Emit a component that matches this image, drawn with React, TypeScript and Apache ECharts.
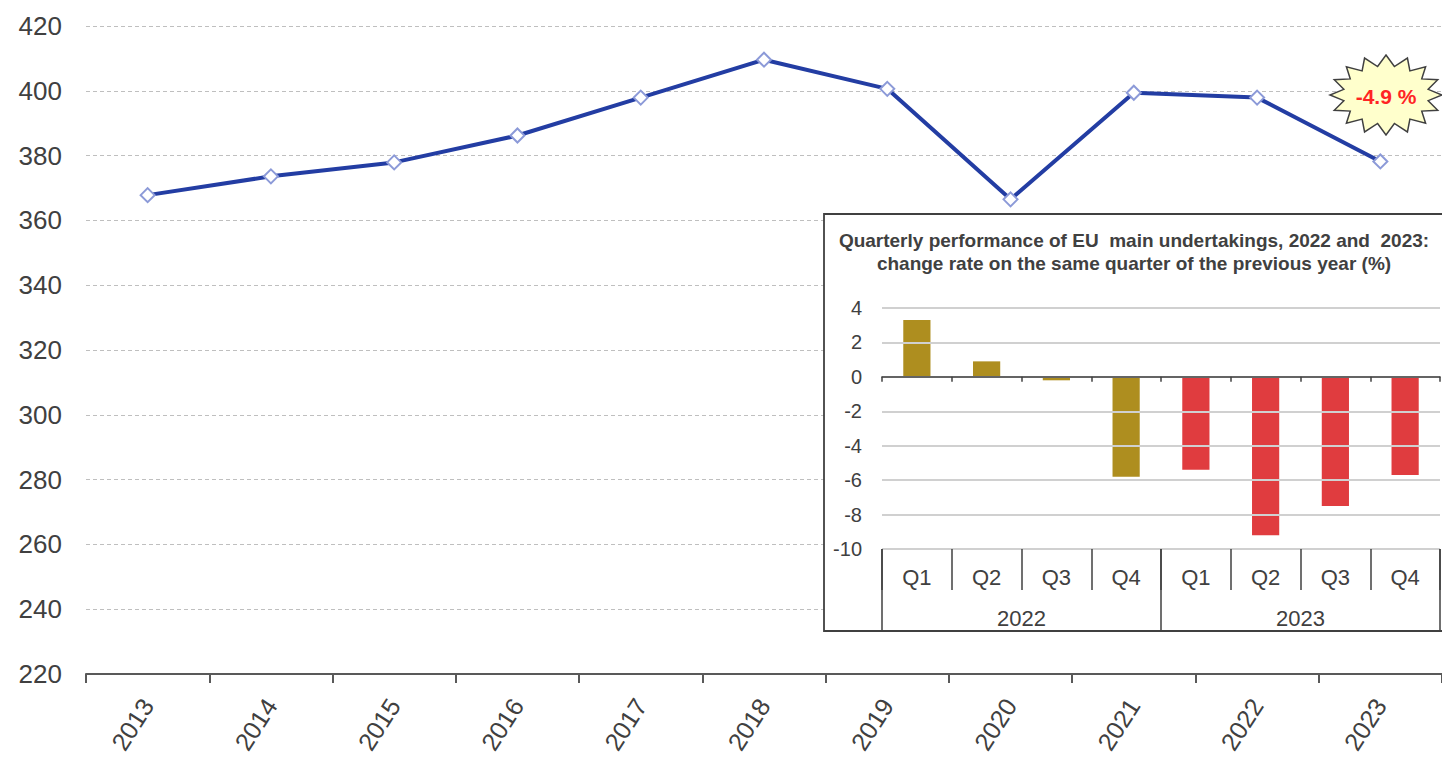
import React, { useEffect, useRef } from "react";
import * as echarts from "echarts";

const years = ["2013", "2014", "2015", "2016", "2017", "2018", "2019", "2020", "2021", "2022", "2023"];
const mainValues = [367.8, 373.6, 377.9, 386.2, 397.9, 409.6, 400.6, 366.5, 399.4, 397.9, 378.2];
const mainMin = 220;
const mainMax = 420;
const mainStep = 20;

const quarterLabels = ["Q1", "Q2", "Q3", "Q4", "Q1", "Q2", "Q3", "Q4"];
const quarterYears = ["2022", "2023"];
const quarterValues = [3.3, 0.9, -0.2, -5.8, -5.4, -9.2, -7.5, -5.7];
const yearColors = ["#AE8E1F", "#E03C3F"];
const insetMin = -10;
const insetMax = 4;
const insetStep = 2;

const changeLabel = "-4.9 %";
const insetTitle = [
  "Quarterly performance of EU  main undertakings, 2022 and  2023:",
  "change rate on the same quarter of the previous year (%)",
];

const FONT = "'Liberation Sans', Arial, sans-serif";
const TXT = "#404040";

function starPoints(cx: number, cy: number, rxo: number, ryo: number, rxi: number, ryi: number, n: number) {
  const pts: number[][] = [];
  for (let i = 0; i < n * 2; i++) {
    const a = (Math.PI * i) / n - Math.PI / 2;
    const outer = i % 2 === 0;
    const rx = outer ? rxo : rxi;
    const ry = outer ? ryo : ryi;
    pts.push([cx + rx * Math.cos(a), cy + ry * Math.sin(a)]);
  }
  return pts;
}

export default function App() {
  const ref = useRef<HTMLDivElement>(null);
  useEffect(() => {
    if (!ref.current) return;
    const chart = echarts.init(ref.current, null, { renderer: "svg" });
    const qCats = quarterLabels.map((q, i) => `${quarterYears[Math.floor(i / 4)]} ${q}`);
    const option: any = {
      animation: false,
      textStyle: { fontFamily: FONT },
      grid: [
        { left: 86, top: 26, width: 1365, height: 650, containLabel: false },
        { left: 882, top: 308, width: 558, height: 241, containLabel: false },
      ],
      xAxis: [
        {
          type: "category",
          gridIndex: 0,
          data: years,
          boundaryGap: true,
          axisLine: { show: true, lineStyle: { color: "#595959", width: 2 } },
          axisTick: { show: true, length: 9, lineStyle: { color: "#595959", width: 2 } },
          axisLabel: { rotate: 57, fontSize: 25, color: TXT, margin: 27, fontFamily: FONT },
          splitLine: { show: false },
        },
        {
          type: "category",
          gridIndex: 1,
          data: qCats,
          position: "bottom",
          z: 10,
          axisLine: { show: true, onZero: true, lineStyle: { color: "#404040", width: 1.5 } },
          axisTick: { show: true, length: 5, interval: 0, lineStyle: { color: "#404040", width: 1.5 } },
          axisLabel: { show: false },
        },
        {
          type: "category",
          gridIndex: 1,
          data: qCats,
          position: "bottom",
          z: 10,
          axisLine: { show: false, onZero: false },
          axisTick: { show: true, length: 41, interval: 0, lineStyle: { color: "#404040", width: 1.5 } },
          axisLabel: {
            show: true,
            interval: 0,
            margin: 17,
            fontSize: 22,
            color: TXT,
            fontFamily: FONT,
            formatter: (v: string) => v.split(" ")[1],
          },
        },
        {
          type: "category",
          gridIndex: 1,
          data: quarterYears,
          position: "bottom",
          z: 10,
          axisLine: { show: false, onZero: false },
          axisTick: { show: true, length: 83, interval: 0, lineStyle: { color: "#404040", width: 1.5 } },
          axisLabel: { show: true, interval: 0, margin: 58, fontSize: 22, color: TXT, fontFamily: FONT },
        },
      ],
      yAxis: [
        {
          type: "value",
          gridIndex: 0,
          min: mainMin,
          max: mainMax,
          interval: mainStep,
          axisLine: { show: false },
          axisTick: { show: false },
          axisLabel: { fontSize: 26, color: TXT, margin: 24, fontFamily: FONT },
          splitLine: { show: true, lineStyle: { color: "#BFBFBF", type: [4, 3], width: 1 } },
        },
        {
          type: "value",
          gridIndex: 1,
          min: insetMin,
          max: insetMax,
          interval: insetStep,
          z: 10,
          axisLine: { show: false },
          axisTick: { show: false },
          axisLabel: { fontSize: 20, color: TXT, margin: 20, fontFamily: FONT },
          splitLine: { show: true, lineStyle: { color: "#D0D0D0", width: 2 } },
        },
      ],
      series: [
        {
          type: "line",
          xAxisIndex: 0,
          yAxisIndex: 0,
          data: mainValues,
          z: 2,
          lineStyle: { color: "#233DA3", width: 4 },
          symbol: "diamond",
          symbolSize: 14,
          itemStyle: { color: "#FFFFFF", borderColor: "#8C9AD8", borderWidth: 2 },
        },
        {
          type: "bar",
          xAxisIndex: 1,
          yAxisIndex: 1,
          z: 9,
          barWidth: "39%",
          data: quarterValues.map((v, i) => ({
            value: v,
            itemStyle: { color: yearColors[Math.floor(i / 4)] },
          })),
        },
      ],
      graphic: {
        elements: [
          {
            type: "rect",
            z: 5,
            shape: { x: 824, y: 214, width: 700, height: 417 },
            style: { fill: "#FFFFFF", stroke: "#404040", lineWidth: 1.8 },
          },
          {
            type: "text",
            z: 12,
            x: 1134,
            y: 240,
            style: {
              text: insetTitle[0],
              fill: TXT,
              font: `bold 19px ${FONT}`,
              textAlign: "center",
              textVerticalAlign: "middle",
            },
          },
          {
            type: "text",
            z: 12,
            x: 1134,
            y: 263,
            style: {
              text: insetTitle[1],
              fill: TXT,
              font: `bold 19px ${FONT}`,
              textAlign: "center",
              textVerticalAlign: "middle",
            },
          },
          {
            type: "polygon",
            z: 12,
            shape: { points: starPoints(1386, 95, 56, 40, 43, 29, 16) },
            style: { fill: "#FFFFCC", stroke: "#404040", lineWidth: 1.5 },
          },
          {
            type: "text",
            z: 13,
            x: 1386,
            y: 96,
            style: {
              text: changeLabel,
              fill: "#FF2424",
              font: `bold 21px ${FONT}`,
              textAlign: "center",
              textVerticalAlign: "middle",
            },
          },
        ],
      },
    };
    chart.setOption(option);
    return () => chart.dispose();
  }, []);
  return (
    <div
      ref={ref}
      style={{ position: "fixed", left: 0, top: 0, width: 1442, height: 757, background: "#FFFFFF" }}
    />
  );
}
